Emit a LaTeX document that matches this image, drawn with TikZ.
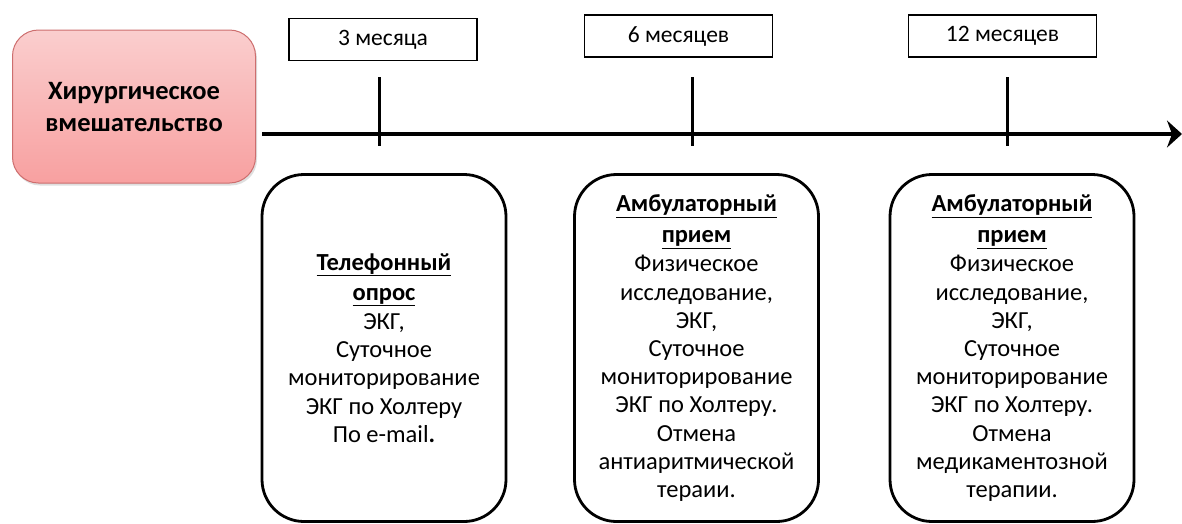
\documentclass[tikz,border=0pt]{standalone}
\usepackage{fontspec}
\setmainfont{Carlito}
\usetikzlibrary{arrows.meta,shadows}
\definecolor{pinktop}{RGB}{250,206,206}
\definecolor{pinkbot}{RGB}{248,160,160}
\definecolor{pinkedge}{RGB}{205,110,110}
\tikzset{
  surgery/.style={rectangle, rounded corners=26pt, minimum width=243pt, minimum height=153pt,
    draw=pinkedge, line width=1pt, top color=pinktop, bottom color=pinkbot,
    drop shadow={shadow xshift=1.5pt, shadow yshift=-2.5pt, opacity=0.25},
    align=center, font=\fontsize{26.5}{32}\selectfont\bfseries, inner sep=0pt},
  period/.style={rectangle, draw, line width=1.3pt, minimum width=188pt, minimum height=42pt,
    font=\fontsize{23.5}{27}\selectfont, inner sep=0pt},
  visit/.style={rectangle, draw, line width=2.8pt, rounded corners=42pt,
    minimum width=244pt, minimum height=347pt, align=center,
    font=\fontsize{24.5}{28.2}\selectfont, inner sep=0pt},
  timeline/.style={line width=4.5pt, -{Stealth[length=15pt,width=27pt,inset=5pt]}},
  tick/.style={line width=3pt}
}
\begin{document}
\begin{tikzpicture}[x=1pt,y=-1pt]
\useasboundingbox (0,0) rectangle (1182,523);
\node[surgery] (surg) at (134,106.5) {Хирургическое\\вмешательство};
\coordinate (tstart) at (262,134);
\coordinate (tend) at (1182,134);
\draw[timeline] (tstart) -- (tend);
\coordinate (t1a) at (379,77); \coordinate (t1b) at (379,146);
\coordinate (t2a) at (692,77); \coordinate (t2b) at (692,146);
\coordinate (t3a) at (1007,77); \coordinate (t3b) at (1007,146);
\draw[tick] (t1a) -- (t1b);
\draw[tick] (t2a) -- (t2b);
\draw[tick] (t3a) -- (t3b);
\node[period] (p1) at (383,39.5) {3 месяца};
\node[period] (p2) at (678.5,36) {6 месяцев};
\node[period] (p3) at (1002.5,36) {12 месяцев};
\node[visit] (v1) at (384,348) {\underline{\textbf{Телефонный}}\\[2pt]\underline{\textbf{опрос}}\\[1pt]ЭКГ,\\Суточное\\мониторирование\\ЭКГ по Холтеру\\По e-mail\textbf{.}};
\node[visit] (v2) at (696.5,348) {\underline{\textbf{Амбулаторный}}\\[3pt]\underline{\textbf{прием}}\\[1pt]Физическое\\исследование,\\ЭКГ,\\Суточное\\мониторирование\\ЭКГ по Холтеру.\\Отмена\\антиаритмической\\тераии.};
\node[visit] (v3) at (1012,348) {\underline{\textbf{Амбулаторный}}\\[3pt]\underline{\textbf{прием}}\\[1pt]Физическое\\исследование,\\ЭКГ,\\Суточное\\мониторирование\\ЭКГ по Холтеру.\\Отмена\\медикаментозной\\терапии.};
\end{tikzpicture}
\end{document}
